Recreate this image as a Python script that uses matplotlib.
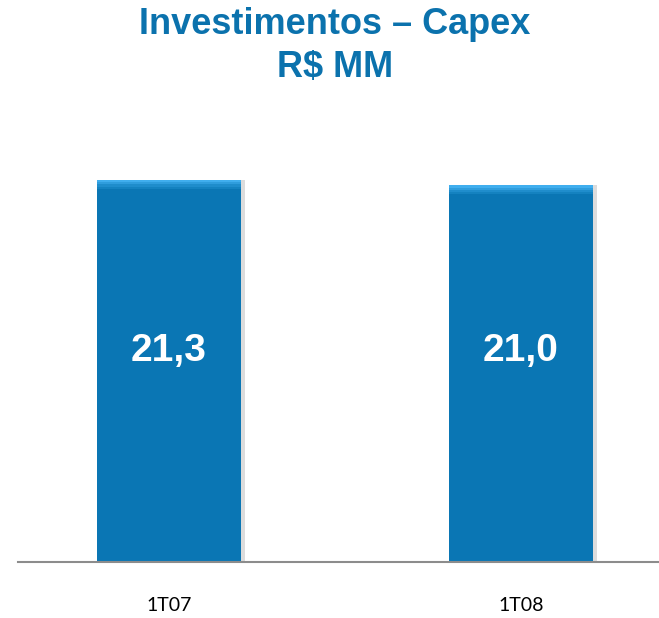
import matplotlib
matplotlib.use("Agg")
import matplotlib.pyplot as plt

categories = ["1T07", "1T08"]
values = [21.3, 21.0]
value_labels = ["21,3", "21,0"]

W, H = 659, 618
fig = plt.figure(figsize=(W / 100, H / 100), dpi=100)
fig.patch.set_facecolor("white")

ax_left, ax_right = 18, 659
ax_bottom, ax_top = 562, 150
ax = fig.add_axes([ax_left / W, (H - ax_bottom) / H, (ax_right - ax_left) / W, (ax_bottom - ax_top) / H])

x = list(range(len(categories)))
bar_color = "#0a76b4"
width = 0.409
# shadow
ax.bar([xi + 0.012 for xi in x], values, width=width, color="#dcdcdc", zorder=1)
ax.bar(x, values, width=width, color=bar_color, zorder=2)
# bevel highlight at top (gradient steps)
steps = [("#40aeee", 0.12), ("#2f9ddd", 0.12), ("#1f8dcc", 0.12), ("#1482c0", 0.12)]
off = 0.0
for col, h in steps:
    ax.bar(x, [h] * len(values), bottom=[v - off - h for v in values], width=width,
           color=col, zorder=3, linewidth=0)
    off += h

ax.set_xlim(-0.429, 1.392)
ax.set_ylim(0, (ax_bottom - ax_top) / 17.93)

for xi, v, lab in zip(x, values, value_labels):
    ax.text(xi, 11.77, lab, ha="center", va="center", color="white",
            fontsize=28, fontweight="bold", family="Liberation Sans", zorder=5)

for s in ["top", "right", "left"]:
    ax.spines[s].set_visible(False)
ax.spines["bottom"].set_color("#8c8c8c")
ax.spines["bottom"].set_linewidth(1.5)
ax.spines["bottom"].set_zorder(6)
ax.set_yticks([])
ax.set_xticks(x)
ax.set_xticklabels(categories, fontsize=14, family="Lato", color="black")
ax.tick_params(axis="x", length=0, pad=25)

title_color = "#0b72ad"
fig.text(335 / W, 1 - 24 / H, "Investimentos – Capex", ha="center", va="center",
         fontsize=26, fontweight="bold", color=title_color, family="Liberation Sans")
fig.text(335 / W, 1 - 67 / H, "R$ MM", ha="center", va="center",
         fontsize=26, fontweight="bold", color=title_color, family="Liberation Sans")

fig.savefig("out.png", dpi=100)
